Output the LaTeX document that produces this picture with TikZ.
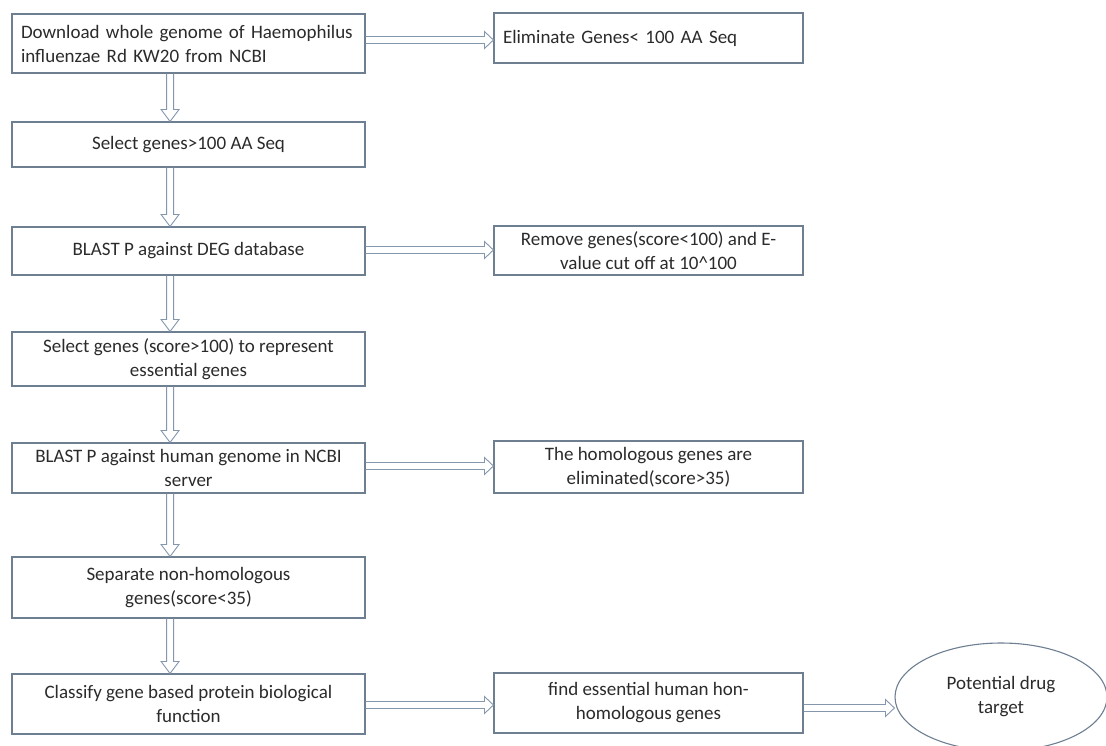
\documentclass[tikz,border=0pt]{standalone}
\usepackage{fontspec}
\setmainfont{Carlito}
\usetikzlibrary{calc,shapes.geometric}
\definecolor{boxline}{HTML}{6E7F91}
\definecolor{arrline}{HTML}{8597AC}
\definecolor{txt}{HTML}{2B2B2B}
\tikzset{
  stepbox/.style={draw=boxline, line width=1.1pt, fill=white, text=txt,
    font=\fontsize{19}{24}\selectfont, align=center, inner sep=0pt},
  leftbox/.style={minimum width=353pt},
  rightbox/.style={minimum width=309pt},
  blockarr/.style={draw=arrline, line width=0.9pt, line join=miter}
}
\newcommand\varrow[2]{%
  \draw[blockarr] let \p1=($(#1.south west)!0.448!(#1.south east)$), \p2=(#2.north) in
  (\x1-3.5pt,\y1) -- (\x1-3.5pt,\y2+12pt) -- (\x1-9pt,\y2+12pt) -- (\x1,\y2)
  -- (\x1+9pt,\y2+12pt) -- (\x1+3.5pt,\y2+12pt) -- (\x1+3.5pt,\y1);}
\newcommand\harrow[3]{%
  \draw[blockarr] let \p1=(#1.east), \p2=(#2.west), \p3=(0,#3) in
  (\x1,\y3+3.5pt) -- (\x2-9pt,\y3+3.5pt) -- (\x2-9pt,\y3+8.5pt) -- (\x2,\y3)
  -- (\x2-9pt,\y3-8.5pt) -- (\x2-9pt,\y3-3.5pt) -- (\x1,\y3-3.5pt);}
\begin{document}
\begin{tikzpicture}[x=1pt,y=-1pt]
\useasboundingbox[fill=white] (0,0) rectangle (1106,745);
% left column
\node[stepbox,leftbox,minimum height=59pt,text width=335pt,align=left] (b1) at (188.5,43.5)
  {Download whole genome of Haemophilus\\influenzae Rd KW20 from NCBI};
\node[stepbox,leftbox,minimum height=45pt] (b2) at (188.5,144.5) {Select genes>100 AA Seq};
\node[stepbox,leftbox,minimum height=48pt] (b3) at (188.5,251) {BLAST P against DEG database};
\node[stepbox,leftbox,minimum height=54pt] (b4) at (188.5,359)
  {Select genes (score>100) to represent\\essential genes};
\node[stepbox,leftbox,minimum height=50pt] (b5) at (188.5,468)
  {BLAST P against human genome in NCBI\\server};
\node[stepbox,leftbox,minimum height=61pt] (b6) at (188.5,587.5)
  {Separate non-homologous\\genes(score<35)};
\node[stepbox,leftbox,minimum height=60pt] (b7) at (188.5,704)
  {Classify gene based protein biological\\function};
% right column
\node[stepbox,rightbox,minimum height=50pt,text width=291pt,align=left] (r1) at (648.5,38)
  {Eliminate Genes< 100 AA Seq};
\node[stepbox,rightbox,minimum height=49pt] (r2) at (648.5,250.5)
  {Remove genes(score<100) and E-\\value cut off at 10\^{}100};
\node[stepbox,rightbox,minimum height=52pt] (r3) at (648.5,467)
  {The homologous genes are\\eliminated(score>35)};
\node[stepbox,rightbox,minimum height=60pt] (r4) at (648.5,703)
  {find essential human hon-\\homologous genes};
\node[stepbox,ellipse,minimum width=212pt,minimum height=108pt] (e) at (1001,697)
  {Potential drug\\target};
% vertical arrows
\varrow{b1}{b2}
\varrow{b2}{b3}
\varrow{b3}{b4}
\varrow{b4}{b5}
\varrow{b5}{b6}
\varrow{b6}{b7}
% horizontal arrows
\harrow{b1}{r1}{40}
\harrow{b3}{r2}{250}
\harrow{b5}{r3}{466}
\harrow{b7}{r4}{705}
\harrow{r4}{e}{708}
\end{tikzpicture}
\end{document}
